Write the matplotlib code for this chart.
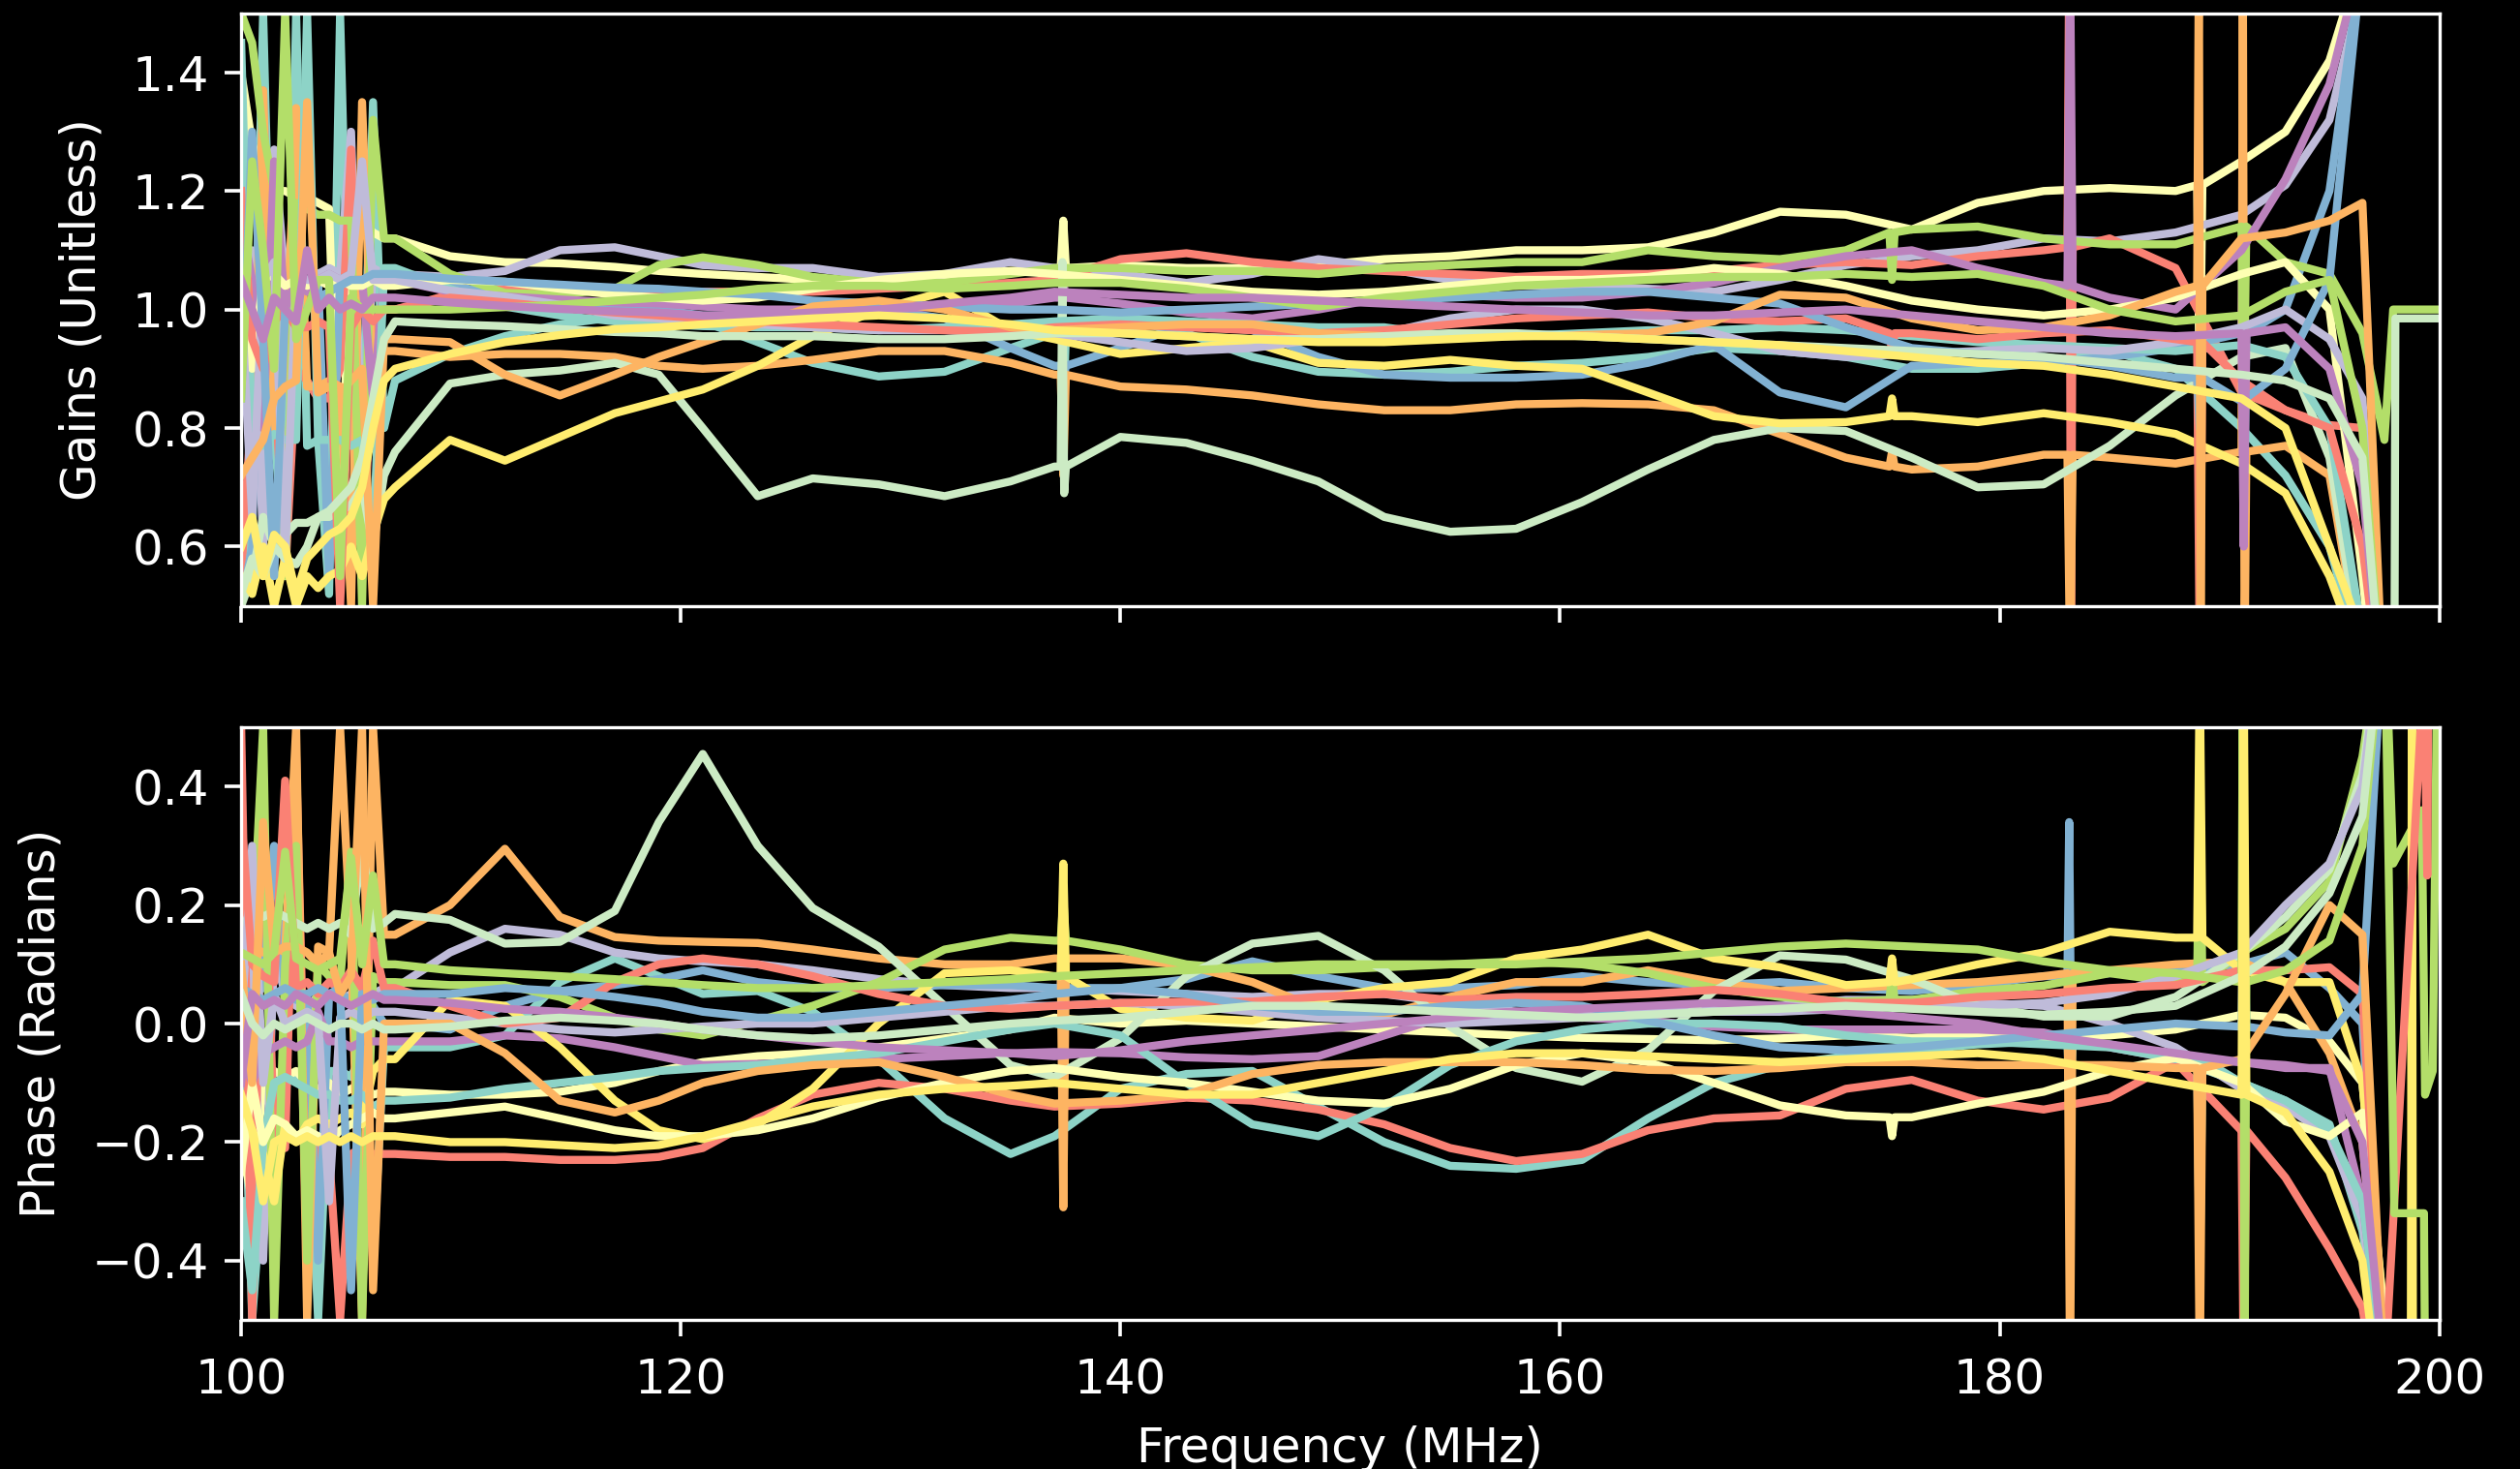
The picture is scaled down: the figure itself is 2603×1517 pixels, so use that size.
import numpy as np
import matplotlib.pyplot as plt

plt.style.use('dark_background')
plt.rcParams['font.size'] = 18

# frequencies (MHz): noisy band edge, then the smooth part of the band
edge_freq = [100.0, 100.5, 101.0, 101.5, 102.0, 102.5, 103.0, 103.5, 104.0, 104.5, 105.0, 105.5, 106.0, 106.5]
band_freq = [107, 109.5, 112, 114.5, 117, 119, 121, 123.5, 126, 129, 132, 135, 137, 140, 143, 146, 149,
             152, 155, 158, 161, 164, 167, 170, 173, 176, 179, 182, 185, 188, 191, 193, 195, 196.5, 197.5]

# ---- gain amplitudes, one array per antenna (edge values then band values) ----
gain_teal_a = [0.55, 0.70, 1.50, 0.78, 0.60, 1.50, 0.77, 0.78, 0.52, 1.50, 0.78, 0.78, 1.35, 0.80,
               0.88, 0.925, 0.955, 0.975, 0.987, 0.99, 0.98, 0.945, 0.91, 0.887, 0.895, 0.935,
               0.96, 0.985, 0.96, 0.92, 0.895, 0.89, 0.895, 0.905, 0.91, 0.92, 0.935, 0.93, 0.92, 0.90, 0.90,
               0.91, 0.93, 0.90, 0.80, 0.72, 0.60, 0.40, 0.20]
gain_cream_a = [1.40, 1.28, 1.22, 1.20, 1.20, 1.19, 1.19, 1.18, 1.17, 0.60, 1.16, 1.15, 1.13, 1.12,
                1.12, 1.09, 1.08, 1.078, 1.072, 1.065, 1.06, 1.055, 1.05, 1.045, 1.05, 1.065,
                1.07, 1.075, 1.07, 1.07, 1.075, 1.085, 1.09, 1.10, 1.10, 1.105, 1.13, 1.165, 1.16, 1.135, 1.18,
                1.20, 1.205, 1.20, 1.25, 1.30, 1.42, 1.60, 1.80]
gain_lilac_a = [0.95, 1.10, 0.60, 1.27, 1.05, 1.06, 1.07, 1.06, 1.07, 1.06, 1.30, 0.75, 1.07, 1.06,
                1.06, 1.055, 1.065, 1.10, 1.105, 1.09, 1.075, 1.07, 1.07, 1.055, 1.06, 1.08,
                1.07, 1.06, 1.045, 1.06, 1.085, 1.07, 1.05, 1.04, 1.04, 1.035, 1.03, 1.05, 1.075, 1.09, 1.10,
                1.12, 1.115, 1.13, 1.16, 1.21, 1.32, 1.55, 1.80]
gain_salmon_a = [0.55, 0.85, 0.80, 0.90, 0.55, 0.90, 0.88, 0.85, 0.85, 0.90, 1.27, 0.55, 0.95, 1.00,
                 1.00, 1.025, 1.035, 1.035, 1.032, 1.03, 1.03, 1.03, 1.03, 1.035, 1.04, 1.045,
                 1.05, 1.085, 1.095, 1.08, 1.07, 1.065, 1.06, 1.055, 1.06, 1.06, 1.065, 1.075, 1.08, 1.075, 1.09,
                 1.10, 1.12, 1.07, 0.86, 0.83, 0.805, 0.80, 0.30]
gain_blue_a = [0.50, 0.60, 1.37, 0.90, 1.05, 1.06, 1.05, 1.05, 0.55, 1.05, 1.06, 1.05, 1.05, 1.05,
               1.05, 1.04, 1.025, 1.015, 1.005, 1.0, 0.99, 0.99, 0.995, 1.0, 0.985, 0.935,
               0.905, 0.935, 0.975, 0.965, 0.92, 0.89, 0.885, 0.885, 0.89, 0.91, 0.94, 0.86, 0.835, 0.905, 0.91,
               0.91, 0.92, 0.935, 0.96, 1.0, 1.2, 1.6, 1.8]
gain_orange_a = [1.20, 0.72, 1.37, 0.80, 0.88, 1.34, 0.87, 0.87, 0.88, 0.87, 0.50, 1.35, 0.85, 0.93,
                 0.93, 0.92, 0.925, 0.925, 0.92, 0.905, 0.90, 0.905, 0.915, 0.93, 0.93, 0.91,
                 0.89, 0.87, 0.865, 0.855, 0.84, 0.83, 0.83, 0.84, 0.842, 0.84, 0.83, 0.79, 0.75, 0.73, 0.735,
                 0.755, 0.75, 0.74, 0.76, 0.77, 0.72, 0.40, 0.20]
gain_green_a = [1.50, 1.45, 1.30, 1.20, 0.55, 1.18, 1.17, 1.16, 1.16, 1.15, 1.15, 0.50, 1.32, 1.12,
                1.12, 1.06, 1.028, 1.025, 1.035, 1.075, 1.088, 1.075, 1.055, 1.045, 1.045, 1.06,
                1.07, 1.07, 1.065, 1.065, 1.06, 1.07, 1.075, 1.08, 1.08, 1.10, 1.09, 1.085, 1.10, 1.135, 1.14,
                1.12, 1.11, 1.11, 1.14, 1.08, 1.06, 0.96, 0.78]
gain_purple_a = [1.15, 1.05, 0.80, 1.25, 1.00, 1.05, 1.03, 1.05, 1.06, 1.05, 1.05, 1.05, 0.85, 1.05,
                 1.05, 1.03, 1.022, 1.017, 1.012, 1.01, 1.005, 1.0, 1.0, 1.0, 1.005, 1.01,
                 1.02, 1.01, 0.995, 0.985, 1.0, 1.02, 1.025, 1.02, 1.02, 1.03, 1.045, 1.07, 1.09, 1.10, 1.07,
                 1.045, 1.02, 1.0, 1.10, 1.22, 1.38, 1.60, 1.80]
gain_mint_a = [0.50, 0.55, 0.65, 0.60, 0.62, 0.64, 0.64, 0.65, 0.65, 0.66, 0.67, 0.70, 0.60, 0.72,
               0.76, 0.875, 0.89, 0.897, 0.91, 0.89, 0.80, 0.685, 0.715, 0.705, 0.685, 0.71,
               0.735, 0.785, 0.775, 0.745, 0.71, 0.65, 0.625, 0.63, 0.675, 0.73, 0.78, 0.80, 0.795, 0.75, 0.70,
               0.705, 0.77, 0.855, 0.92, 0.935, 0.75, 0.40, 0.20]
gain_yellow_a = [0.55, 0.52, 0.60, 0.50, 0.58, 0.50, 0.55, 0.53, 0.55, 0.56, 0.60, 0.55, 0.62, 0.68,
                 0.70, 0.78, 0.745, 0.785, 0.825, 0.845, 0.865, 0.905, 0.955, 1.0, 1.03, 0.965,
                 0.95, 0.925, 0.935, 0.945, 0.91, 0.905, 0.915, 0.905, 0.90, 0.86, 0.82, 0.808, 0.81, 0.82, 0.81,
                 0.825, 0.81, 0.79, 0.74, 0.69, 0.55, 0.40, 0.20]
gain_teal_b = [1.45, 0.78, 0.77, 0.79, 0.78, 0.78, 1.50, 0.78, 0.78, 0.78, 0.77, 0.78, 0.60, 1.07,
               1.07, 1.035, 1.005, 0.99, 0.98, 0.975, 0.972, 0.97, 0.97, 0.965, 0.97, 0.975,
               0.98, 0.985, 0.98, 0.975, 0.97, 0.97, 0.955, 0.955, 0.96, 0.965, 0.965, 0.97, 0.965, 0.955, 0.945,
               0.94, 0.935, 0.93, 0.94, 0.92, 0.80, 0.45, 0.20]
gain_cream_b = [1.15, 0.90, 1.05, 1.06, 1.04, 1.05, 1.04, 1.05, 1.04, 1.05, 1.04, 1.04, 1.05, 1.04,
                1.04, 1.05, 1.047, 1.035, 1.025, 1.02, 1.015, 1.02, 1.035, 1.05, 1.06, 1.065,
                1.06, 1.05, 1.04, 1.03, 1.025, 1.03, 1.04, 1.05, 1.05, 1.055, 1.07, 1.06, 1.04, 1.015, 1.0,
                0.99, 1.0, 1.02, 1.06, 1.08, 1.0, 0.55, 0.20]
gain_lilac_b = [1.02, 0.65, 1.05, 1.08, 0.58, 1.06, 1.05, 1.05, 1.06, 1.05, 1.06, 1.25, 1.05, 1.05,
                1.05, 1.032, 1.022, 1.008, 0.99, 0.985, 0.98, 0.975, 0.97, 0.965, 0.965, 0.96,
                0.96, 0.945, 0.93, 0.935, 0.95, 0.96, 0.985, 1.0, 1.0, 0.985, 0.96, 0.93, 0.92, 0.925, 0.93,
                0.935, 0.93, 0.945, 0.97, 1.0, 0.95, 0.85, 0.30]
gain_salmon_b = [1.20, 0.95, 0.90, 0.98, 1.00, 0.97, 0.97, 0.98, 0.97, 0.50, 0.97, 1.00, 0.98, 1.00,
                 1.00, 1.02, 1.012, 1.003, 0.995, 0.99, 0.985, 0.98, 0.975, 0.97, 0.965, 0.962,
                 0.97, 0.975, 0.97, 0.965, 0.96, 0.965, 0.975, 0.985, 0.99, 0.995, 0.985, 0.98, 0.985, 0.96, 0.95,
                 0.96, 0.965, 0.95, 0.88, 0.83, 0.80, 0.60, 0.30]
gain_blue_b = [0.85, 1.30, 0.95, 0.55, 1.00, 0.98, 1.00, 1.02, 1.03, 1.04, 1.05, 1.05, 1.06, 1.06,
               1.06, 1.052, 1.047, 1.042, 1.037, 1.035, 1.03, 1.025, 1.015, 1.01, 1.005, 1.0,
               1.0, 0.995, 1.0, 1.005, 1.01, 1.015, 1.02, 1.025, 1.03, 1.03, 1.02, 1.01, 0.97, 0.935, 0.925,
               0.92, 0.905, 0.885, 0.845, 0.90, 1.05, 1.60, 1.80]
gain_orange_b = [0.72, 0.75, 0.78, 0.85, 0.87, 0.88, 1.35, 0.86, 0.87, 0.86, 0.88, 0.90, 0.50, 0.95,
                 0.95, 0.945, 0.89, 0.855, 0.89, 0.92, 0.945, 0.975, 1.005, 1.015, 1.0, 0.97,
                 0.965, 0.97, 0.975, 0.975, 0.96, 0.955, 0.955, 0.955, 0.957, 0.96, 0.98, 1.025, 1.02, 0.985, 0.965,
                 0.97, 0.99, 1.03, 1.12, 1.13, 1.15, 1.18, 0.30]
gain_green_b = [0.85, 1.25, 1.10, 0.90, 1.50, 0.95, 1.00, 1.05, 1.05, 0.55, 1.02, 1.00, 1.00, 1.00,
                1.00, 1.00, 1.004, 1.008, 1.015, 1.02, 1.025, 1.035, 1.04, 1.04, 1.035, 1.04,
                1.045, 1.045, 1.035, 1.02, 1.005, 1.02, 1.03, 1.04, 1.045, 1.05, 1.055, 1.055, 1.06, 1.055, 1.06,
                1.04, 1.00, 0.98, 0.99, 1.03, 1.05, 0.80, 0.30]
gain_purple_b = [1.05, 1.00, 0.95, 1.02, 1.00, 0.98, 1.10, 1.00, 1.02, 1.00, 1.01, 1.00, 1.02, 1.02,
                 1.02, 1.012, 1.006, 1.001, 0.997, 0.995, 0.99, 0.99, 0.995, 1.0, 1.01, 1.02,
                 1.03, 1.025, 1.02, 1.02, 1.015, 1.01, 1.005, 1.0, 0.995, 0.99, 0.99, 0.995, 1.0, 0.99, 0.98,
                 0.97, 0.96, 0.955, 0.96, 0.97, 0.90, 0.70, 0.30]
gain_mint_b = [0.52, 0.58, 0.55, 0.60, 0.58, 0.57, 0.60, 0.65, 0.66, 0.68, 0.70, 0.75, 0.85, 0.95,
               0.98, 0.975, 0.972, 0.967, 0.962, 0.96, 0.955, 0.955, 0.955, 0.95, 0.95, 0.955,
               0.96, 0.96, 0.955, 0.95, 0.95, 0.955, 0.96, 0.96, 0.955, 0.95, 0.945, 0.94, 0.935, 0.93, 0.925,
               0.92, 0.91, 0.90, 0.89, 0.88, 0.85, 0.75, 0.30]
gain_yellow_b = [0.60, 0.65, 0.55, 0.62, 0.60, 0.52, 0.58, 0.60, 0.62, 0.63, 0.65, 0.70, 0.80, 0.88,
                 0.90, 0.925, 0.945, 0.957, 0.967, 0.97, 0.975, 0.98, 0.985, 0.99, 0.985, 0.975,
                 0.965, 0.96, 0.955, 0.95, 0.945, 0.945, 0.95, 0.955, 0.955, 0.95, 0.945, 0.94, 0.93, 0.92, 0.91,
                 0.905, 0.89, 0.87, 0.85, 0.80, 0.60, 0.45, 0.20]

gain_lines = [gain_teal_a, gain_cream_a, gain_lilac_a, gain_salmon_a, gain_blue_a,
              gain_orange_a, gain_green_a, gain_purple_a, gain_mint_a, gain_yellow_a,
              gain_teal_b, gain_cream_b, gain_lilac_b, gain_salmon_b, gain_blue_b,
              gain_orange_b, gain_green_b, gain_purple_b, gain_mint_b, gain_yellow_b]

# narrow RFI glitches: (antenna, freq, level either side, excursions)
gain_spikes = [
    (1, 137.4, 1.07, [1.15]), (8, 137.4, 0.735, [1.08, 0.69]), (5, 137.4, 0.89, [0.72]),
    (0, 137.4, 0.96, [1.02, 0.87]), (7, 137.4, 1.02, [1.045]), (4, 137.4, 0.905, [0.88]),
    (6, 175.1, 1.13, [1.05]), (9, 175.1, 0.82, [0.85]), (5, 175.1, 0.735, [0.76]), (13, 175.1, 0.96, [0.93]),
    (3, 183.2, 1.105, [1.6, 0.4]), (7, 183.2, 1.04, [1.6]), (5, 183.2, 0.755, [0.4]),
    (15, 189.1, 1.04, [1.6, 0.4]), (13, 189.1, 0.945, [0.4]), (1, 189.1, 1.21, [0.85]), (14, 189.1, 0.885, [0.80]),
    (5, 191.1, 0.76, [1.6, 0.4]), (6, 191.1, 1.14, [0.82]), (4, 191.1, 0.96, [1.2, 0.7]), (17, 191.1, 0.96, [0.6]),
]

# flagged channels past the band edge are held at unity gain
gain_tail = {6: ([197.9, 200.0], [1.0, 1.0]),
             18: ([197.95, 198.0, 200.0], [0.3, 0.985, 0.985])}

# ---- gain phases (radians) ----
phase_teal_a = [0.10, -0.50, -0.25, -0.12, -0.10, -0.09, -0.09, -0.50, -0.08, -0.08, -0.09, -0.05, -0.40, -0.04,
                -0.04, -0.04, -0.02, 0.07, 0.11, 0.08, 0.05, 0.055, 0.02, -0.06, -0.16, -0.22,
                -0.19, -0.11, -0.085, -0.08, -0.14, -0.20, -0.24, -0.245, -0.23, -0.16, -0.10, -0.07, -0.055, -0.045,
                -0.035, -0.03, -0.035, -0.06, -0.10, -0.13, -0.17, -0.35, -0.60]
phase_cream_a = [-0.20, -0.30, -0.10, -0.08, -0.09, -0.08, -0.10, -0.11, -0.10, -0.12, -0.11, -0.10, -0.12, -0.115,
                 -0.115, -0.12, -0.12, -0.115, -0.10, -0.08, -0.065, -0.055, -0.05, -0.04, -0.025, -0.01,
                 0.01, 0.0, 0.005, 0.0, -0.005, -0.01, -0.015, -0.02, -0.024, -0.026, -0.028, -0.025, -0.02, -0.024,
                 -0.02, -0.022, -0.02, -0.01, 0.015, 0.01, -0.03, -0.10, -0.50]
phase_lilac_a = [0.15, 0.10, -0.40, 0.12, 0.05, 0.03, 0.02, 0.05, 0.05, 0.04, 0.05, 0.06, 0.05, 0.06,
                 0.06, 0.12, 0.16, 0.15, 0.12, 0.11, 0.105, 0.10, 0.09, 0.075, 0.065, 0.06,
                 0.06, 0.055, 0.05, 0.045, 0.05, 0.05, 0.035, 0.02, 0.017, 0.025, 0.03, 0.03, 0.04, 0.04,
                 0.035, 0.03, 0.0, -0.04, -0.11, -0.14, -0.19, -0.33, -0.60]
phase_salmon_a = [0.50, -0.50, 0.40, -0.20, -0.21, 0.45, -0.30, -0.21, -0.22, -0.50, -0.22, -0.21, -0.22, -0.22,
                  -0.22, -0.225, -0.225, -0.23, -0.23, -0.225, -0.21, -0.16, -0.12, -0.10, -0.11, -0.13,
                  -0.14, -0.135, -0.125, -0.13, -0.145, -0.17, -0.21, -0.232, -0.22, -0.18, -0.16, -0.155, -0.11, -0.095,
                  -0.13, -0.145, -0.125, -0.065, -0.18, -0.26, -0.38, -0.48, -0.70]
phase_blue_a = [0.05, 0.05, 0.06, 0.30, 0.05, 0.04, 0.05, -0.40, 0.05, 0.05, 0.04, 0.05, 0.03, 0.0,
                0.0, -0.01, 0.03, 0.055, 0.065, 0.075, 0.09, 0.07, 0.06, 0.06, 0.065, 0.065,
                0.06, 0.06, 0.075, 0.105, 0.08, 0.06, 0.06, 0.065, 0.08, 0.07, 0.065, 0.07, 0.06, 0.055,
                0.065, 0.08, 0.085, 0.09, 0.10, 0.12, 0.06, 0.0, -0.60]
phase_orange_a = [0.15, 0.13, 0.12, 0.13, 0.12, 0.50, -0.50, 0.13, 0.12, 0.50, 0.13, -0.50, 0.50, 0.15,
                  0.15, 0.20, 0.295, 0.18, 0.146, 0.14, 0.138, 0.136, 0.125, 0.11, 0.10, 0.10,
                  0.11, 0.11, 0.098, 0.07, 0.025, 0.015, 0.045, 0.07, 0.07, 0.09, 0.07, 0.055, 0.06, 0.065,
                  0.07, 0.08, 0.09, 0.10, 0.105, 0.07, -0.05, -0.20, -0.60]
phase_green_a = [0.10, 0.12, 0.50, -0.50, 0.10, 0.30, -0.40, 0.10, 0.08, 0.07, 0.29, -0.50, 0.08, 0.07,
                 0.07, 0.065, 0.065, 0.045, 0.01, -0.01, -0.02, 0.005, 0.03, 0.07, 0.125, 0.145,
                 0.14, 0.125, 0.10, 0.09, 0.09, 0.095, 0.10, 0.105, 0.10, 0.085, 0.06, 0.045, 0.037, 0.04,
                 0.055, 0.064, 0.085, 0.07, 0.12, 0.16, 0.24, 0.45, 0.70]
phase_purple_a = [-0.05, -0.10, -0.05, -0.04, -0.03, -0.04, -0.03, 0.02, -0.03, -0.03, -0.04, -0.03, -0.03, -0.03,
                  -0.03, -0.03, -0.02, -0.025, -0.04, -0.055, -0.07, -0.068, -0.065, -0.06, -0.055, -0.05,
                  -0.048, -0.05, -0.057, -0.06, -0.055, -0.02, 0.015, 0.02, 0.01, 0.005, -0.005, -0.01, -0.01, -0.01,
                  -0.01, -0.015, -0.04, -0.06, -0.065, -0.075, -0.075, -0.30, -0.60]
phase_mint_a = [0.15, 0.20, 0.18, 0.19, 0.18, 0.17, 0.16, 0.17, 0.16, 0.17, 0.15, 0.30, 0.16, 0.17,
                0.185, 0.175, 0.135, 0.138, 0.19, 0.34, 0.455, 0.30, 0.195, 0.13, 0.03, -0.07,
                -0.09, -0.025, 0.08, 0.135, 0.148, 0.09, -0.005, -0.075, -0.098, -0.045, 0.055, 0.115, 0.108, 0.075,
                0.03, 0.012, 0.012, 0.045, 0.12, 0.18, 0.26, 0.42, 0.70]
phase_yellow_a = [-0.15, -0.18, -0.22, -0.30, -0.17, -0.20, -0.17, -0.16, -0.17, -0.16, -0.15, -0.17, -0.08, -0.06,
                  -0.06, 0.04, 0.03, -0.04, -0.13, -0.18, -0.195, -0.17, -0.11, 0.0, 0.085, 0.09,
                  0.08, 0.025, 0.01, 0.005, 0.04, 0.06, 0.07, 0.11, 0.125, 0.15, 0.11, 0.095, 0.065, 0.075,
                  0.10, 0.12, 0.155, 0.145, 0.09, 0.07, 0.07, -0.10, -0.50]
phase_teal_b = [-0.30, -0.45, -0.20, -0.10, -0.09, -0.10, -0.11, -0.12, -0.12, -0.13, -0.13, -0.12, -0.14, -0.13,
                -0.13, -0.125, -0.11, -0.10, -0.09, -0.08, -0.075, -0.07, -0.06, -0.05, -0.03, -0.01,
                0.0, -0.02, -0.10, -0.17, -0.19, -0.14, -0.07, -0.03, -0.01, 0.0, 0.0, -0.005, -0.02, -0.03,
                -0.03, -0.035, -0.04, -0.06, -0.10, -0.13, -0.18, -0.30, -0.60]
phase_cream_b = [-0.25, -0.10, -0.20, -0.16, -0.17, -0.19, -0.18, -0.19, -0.20, -0.18, -0.17, -0.16, -0.15, -0.16,
                 -0.16, -0.15, -0.14, -0.16, -0.18, -0.19, -0.19, -0.18, -0.16, -0.125, -0.10, -0.08,
                 -0.075, -0.09, -0.10, -0.115, -0.13, -0.135, -0.11, -0.07, -0.05, -0.065, -0.10, -0.138, -0.155, -0.158,
                 -0.135, -0.115, -0.08, -0.058, -0.10, -0.165, -0.19, -0.15, -0.50]
phase_lilac_b = [0.0, 0.30, -0.10, 0.05, 0.0, 0.01, 0.02, 0.01, -0.30, 0.01, 0.02, 0.01, 0.02, 0.02,
                 0.02, 0.01, 0.0, -0.01, -0.015, -0.01, -0.005, 0.0, 0.0, 0.01, 0.02, 0.03,
                 0.03, 0.035, 0.03, 0.02, 0.01, 0.005, 0.0, 0.005, 0.01, 0.015, 0.02, 0.02, 0.025, 0.03,
                 0.03, 0.035, 0.05, 0.08, 0.12, 0.20, 0.27, 0.40, 0.70]
phase_salmon_b = [0.35, 0.10, 0.08, 0.07, 0.41, 0.06, 0.07, 0.05, 0.07, 0.06, 0.09, 0.06, 0.14, 0.06,
                  0.06, 0.03, 0.0, 0.01, 0.07, 0.10, 0.11, 0.10, 0.08, 0.05, 0.03, 0.025,
                  0.03, 0.035, 0.037, 0.037, 0.045, 0.05, 0.04, 0.045, 0.045, 0.05, 0.057, 0.05, 0.035, 0.035,
                  0.045, 0.05, 0.06, 0.065, 0.09, 0.09, 0.095, 0.05, -0.60]
phase_blue_b = [0.06, 0.05, 0.04, 0.05, 0.06, 0.05, 0.05, 0.06, 0.05, 0.06, -0.45, 0.05, 0.04, 0.05,
                0.05, 0.05, 0.06, 0.055, 0.045, 0.035, 0.02, 0.01, 0.01, 0.02, 0.03, 0.04,
                0.05, 0.06, 0.05, 0.03, 0.02, 0.02, 0.03, 0.035, 0.03, 0.005, -0.02, -0.04, -0.045, -0.04,
                -0.03, -0.02, -0.01, 0.0, -0.005, -0.015, -0.02, 0.05, 0.70]
phase_orange_b = [0.10, -0.10, 0.34, 0.12, 0.13, 0.13, 0.12, 0.10, 0.12, 0.05, 0.08, 0.50, -0.45, 0.0,
                  0.0, 0.0, -0.05, -0.13, -0.15, -0.13, -0.10, -0.08, -0.07, -0.065, -0.09, -0.12,
                  -0.135, -0.13, -0.12, -0.085, -0.07, -0.065, -0.065, -0.065, -0.07, -0.078, -0.08, -0.075, -0.065, -0.065,
                  -0.07, -0.07, -0.07, -0.075, -0.06, 0.05, 0.20, 0.15, -0.60]
phase_green_b = [0.12, 0.11, 0.10, 0.12, 0.29, 0.11, 0.10, 0.09, 0.10, 0.11, 0.28, 0.10, 0.25, 0.10,
                 0.10, 0.09, 0.085, 0.08, 0.075, 0.07, 0.065, 0.06, 0.06, 0.065, 0.07, 0.075,
                 0.08, 0.085, 0.09, 0.095, 0.10, 0.10, 0.10, 0.10, 0.105, 0.11, 0.12, 0.13, 0.135, 0.13,
                 0.125, 0.105, 0.09, 0.085, 0.07, 0.09, 0.14, 0.30, 0.70]
phase_purple_b = [-0.10, 0.05, 0.03, 0.04, 0.03, 0.05, 0.04, 0.03, 0.05, 0.04, 0.03, 0.04, 0.05, 0.04,
                  0.04, 0.035, 0.025, 0.02, 0.01, 0.0, -0.01, -0.02, -0.03, -0.04, -0.045, -0.05,
                  -0.055, -0.045, -0.03, -0.02, -0.01, 0.0, 0.01, 0.02, 0.025, 0.03, 0.035, 0.03, 0.02, 0.01,
                  0.0, -0.02, -0.035, -0.05, -0.065, -0.07, -0.08, -0.20, -0.60]
phase_mint_b = [0.05, 0.0, -0.02, 0.0, -0.01, 0.0, 0.01, 0.0, -0.01, 0.0, 0.0, -0.01, 0.0, -0.01,
                -0.01, -0.005, 0.005, 0.01, 0.005, 0.0, -0.01, -0.02, -0.025, -0.02, -0.01, 0.0,
                0.005, 0.01, 0.02, 0.03, 0.03, 0.025, 0.02, 0.015, 0.01, 0.015, 0.02, 0.025, 0.03, 0.025,
                0.02, 0.015, 0.02, 0.03, 0.08, 0.13, 0.22, 0.35, 0.70]
phase_yellow_b = [-0.12, -0.18, -0.30, -0.20, -0.19, -0.20, -0.19, -0.20, -0.19, -0.20, -0.19, -0.20, -0.19, -0.19,
                  -0.19, -0.20, -0.20, -0.205, -0.21, -0.205, -0.19, -0.165, -0.14, -0.12, -0.11, -0.105,
                  -0.10, -0.11, -0.12, -0.12, -0.10, -0.08, -0.06, -0.05, -0.05, -0.055, -0.06, -0.065, -0.06, -0.055,
                  -0.05, -0.06, -0.08, -0.10, -0.12, -0.15, -0.25, -0.40, -0.70]

phase_lines = [phase_teal_a, phase_cream_a, phase_lilac_a, phase_salmon_a, phase_blue_a,
               phase_orange_a, phase_green_a, phase_purple_a, phase_mint_a, phase_yellow_a,
               phase_teal_b, phase_cream_b, phase_lilac_b, phase_salmon_b, phase_blue_b,
               phase_orange_b, phase_green_b, phase_purple_b, phase_mint_b, phase_yellow_b]

phase_spikes = [
    (9, 137.4, 0.08, [0.27]), (6, 137.4, 0.14, [0.21]), (4, 137.4, 0.06, [0.18]), (5, 137.4, 0.11, [-0.31]),
    (11, 175.1, -0.158, [-0.19]), (9, 175.1, 0.07, [0.11]), (6, 175.1, 0.04, [0.08]),
    (4, 183.2, 0.08, [0.34, 0.0]), (0, 183.2, -0.03, [-0.15]), (5, 183.2, 0.085, [-0.6]),
    (6, 189.1, 0.07, [0.41]), (9, 189.1, 0.145, [0.6]), (10, 189.1, -0.06, [-0.43]), (15, 189.1, -0.075, [-0.6]),
    (19, 191.1, -0.12, [0.6]), (14, 191.1, -0.005, [0.26]), (16, 191.1, 0.07, [0.6, -0.6]), (3, 191.1, -0.18, [-0.6]),
]

# channels beyond the band edge
phase_tail = {6: ([197.9, 199.2, 199.35, 199.7, 199.9], [0.27, 0.36, -0.12, -0.08, 0.6]),
              16: ([197.95, 199.3, 199.35], [-0.32, -0.32, -0.6]),
              9: ([198.7, 198.75, 198.8], [-0.6, 0.6, -0.6]),
              13: ([199.3, 199.45, 199.5], [0.6, 0.25, 0.6])}


def build_trace(values, spikes, tail=None):
    """Join edge and band samples, drop in the narrow glitches and any trailing samples."""
    freq = list(edge_freq) + list(band_freq)
    vals = list(values)
    for f0, base, peaks in spikes:
        offsets = np.linspace(-0.04, 0.04, len(peaks)) if len(peaks) > 1 else [0.0]
        freq += [f0 - 0.12] + [f0 + o for o in offsets] + [f0 + 0.12]
        vals += [base] + list(peaks) + [base]
    if tail is not None:
        freq += list(tail[0])
        vals += list(tail[1])
    order = np.argsort(freq, kind='stable')
    return np.asarray(freq)[order], np.asarray(vals)[order]


def draw_panel(ax, lines, spikes, tails):
    for i, vals in enumerate(lines):
        own = [(f0, base, peaks) for j, f0, base, peaks in spikes if j == i]
        f, v = build_trace(vals, own, tails.get(i))
        ax.plot(f, v, lw=3.0)


fig, (ax_gain, ax_phase) = plt.subplots(2, 1, sharex=True, figsize=(13.015, 7.585), dpi=200)
fig.subplots_adjust(left=0.0957, right=0.968, top=0.991, bottom=0.1015, hspace=0.205)

draw_panel(ax_gain, gain_lines, gain_spikes, gain_tail)
draw_panel(ax_phase, phase_lines, phase_spikes, phase_tail)

ax_gain.set_ylim(0.5, 1.5)
ax_phase.set_ylim(-0.5, 0.5)
ax_phase.set_xlim(100, 200)
ax_phase.set_xticks([100, 120, 140, 160, 180, 200])

ax_gain.set_ylabel('Gains (Unitless)', labelpad=10)
ax_phase.set_ylabel('Phase (Radians)', labelpad=10)
ax_phase.set_xlabel('Frequency (MHz)', labelpad=8)

for ax in (ax_gain, ax_phase):
    ax.tick_params(length=6, width=1.3)
    ax.tick_params(axis='y', pad=6)
    ax.tick_params(axis='x', pad=8)
    for spine in ax.spines.values():
        spine.set_linewidth(1.2)

fig.savefig('out.png', dpi=200, facecolor='black')
